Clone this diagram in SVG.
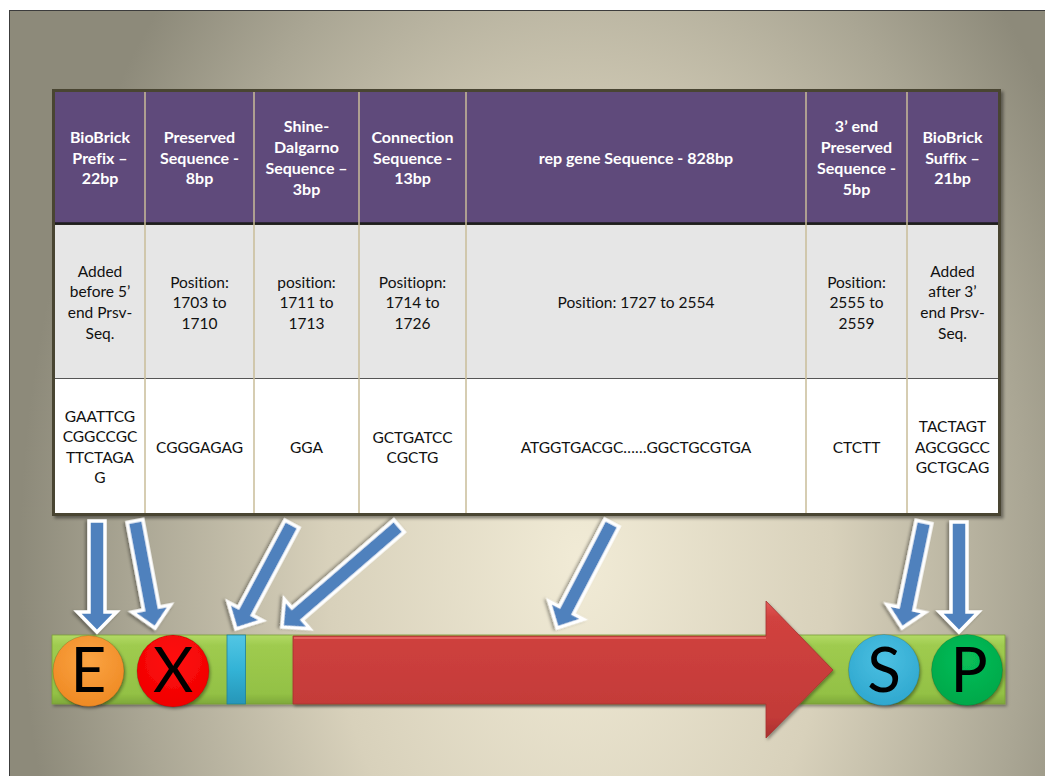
<svg xmlns="http://www.w3.org/2000/svg" width="1045" height="776" viewBox="0 0 1045 776">
<defs>
<radialGradient id="bg" gradientUnits="userSpaceOnUse" cx="580" cy="560" r="560" gradientTransform="translate(580 560) scale(1 1.5) translate(-580 -560)">
<stop offset="0" stop-color="#f1ebd6"/>
<stop offset="0.45" stop-color="#d8d1bb"/>
<stop offset="0.8" stop-color="#aaa694"/>
<stop offset="1" stop-color="#8d8a7a"/>
</radialGradient>
<linearGradient id="green" x1="0" y1="0" x2="0" y2="1">
<stop offset="0" stop-color="#b2da66"/>
<stop offset="0.15" stop-color="#9fcb4f"/>
<stop offset="0.85" stop-color="#93c145"/>
<stop offset="1" stop-color="#7ea83a"/>
</linearGradient>
<linearGradient id="red" x1="0" y1="0" x2="0" y2="1">
<stop offset="0" stop-color="#e35a58"/>
<stop offset="0.12" stop-color="#d1423f"/>
<stop offset="0.85" stop-color="#c23a38"/>
<stop offset="1" stop-color="#a8302e"/>
</linearGradient>
<linearGradient id="cyan" x1="0" y1="0" x2="0" y2="1">
<stop offset="0" stop-color="#52c6e4"/>
<stop offset="0.5" stop-color="#33b3d6"/>
<stop offset="1" stop-color="#2696b8"/>
</linearGradient>
<radialGradient id="gE" cx="0.5" cy="0.35" r="0.65">
<stop offset="0" stop-color="#fba443"/>
<stop offset="1" stop-color="#ef8a24"/>
</radialGradient>
<radialGradient id="gX" cx="0.5" cy="0.35" r="0.65">
<stop offset="0" stop-color="#ff1010"/>
<stop offset="1" stop-color="#f00000"/>
</radialGradient>
<radialGradient id="gS" cx="0.5" cy="0.35" r="0.65">
<stop offset="0" stop-color="#4cc0e2"/>
<stop offset="1" stop-color="#2fa8cf"/>
</radialGradient>
<radialGradient id="gP" cx="0.5" cy="0.35" r="0.65">
<stop offset="0" stop-color="#08be58"/>
<stop offset="1" stop-color="#00a84a"/>
</radialGradient>
<filter id="sh" x="-20%" y="-20%" width="140%" height="140%">
<feDropShadow dx="1.5" dy="2" stdDeviation="1.5" flood-color="#000" flood-opacity="0.35"/>
</filter>
<filter id="tsh" x="-5%" y="-5%" width="110%" height="110%">
<feDropShadow dx="2.5" dy="2.5" stdDeviation="1.5" flood-color="#000" flood-opacity="0.4"/>
</filter>
<style>
text{font-family:Lato,"Liberation Sans",sans-serif;text-anchor:middle;font-variant-ligatures:none}
.h{fill:#ffffff;font-weight:bold;font-size:16px}
.b{fill:#111111;font-size:15.5px}
.div{stroke:#c8bd98;stroke-width:1.5}
.arr{fill:#4f81bd;stroke:#ffffff;stroke-width:3.5;stroke-linejoin:miter;filter:url(#sh)}
.big{font-size:62px;fill:#000000}
.circ{stroke:rgba(0,0,0,0.15);stroke-width:1;filter:url(#sh)}
</style>
</defs>

<rect x="0" y="0" width="1045" height="776" fill="#ffffff"/>
<rect x="9.5" y="10.5" width="1100" height="800" fill="url(#bg)" stroke="#3c3c3c" stroke-width="1"/>

<g id="table">
<rect x="52" y="89" width="949" height="427" fill="#4a4430" filter="url(#tsh)"/>
<rect x="55" y="92" width="943" height="131" fill="#5f4a7b"/>
<rect x="55" y="225" width="943" height="153" fill="#e6e6e6"/>
<rect x="55" y="379" width="943" height="134" fill="#ffffff"/>
<line x1="55" y1="223.5" x2="998" y2="223.5" stroke="#1e1e1e" stroke-width="2.5"/>
<line x1="55" y1="378.5" x2="998" y2="378.5" stroke="#555555" stroke-width="1.2"/>
<line class="div" x1="145" y1="92" x2="145" y2="513"/>
<line class="div" x1="254" y1="92" x2="254" y2="513"/>
<line class="div" x1="359" y1="92" x2="359" y2="513"/>
<line class="div" x1="466" y1="92" x2="466" y2="513"/>
<line class="div" x1="806" y1="92" x2="806" y2="513"/>
<line class="div" x1="907" y1="92" x2="907" y2="513"/>
</g>

<g id="col-prefix">
<text class="h" x="100" y="142.5">BioBrick</text>
<text class="h" x="100" y="163.5">Prefix –</text>
<text class="h" x="100" y="184">22bp</text>
<text class="b" x="100" y="276.5">Added</text>
<text class="b" x="100" y="297">before 5’</text>
<text class="b" x="100" y="318">end Prsv-</text>
<text class="b" x="100" y="338.5">Seq.</text>
<text class="b" x="100" y="421.5">GAATTCG</text>
<text class="b" x="100" y="442">CGGCCGC</text>
<text class="b" x="100" y="462.5">TTCTAGA</text>
<text class="b" x="100" y="483">G</text>
</g>

<g id="col-preserved">
<text class="h" x="199.5" y="142.5">Preserved</text>
<text class="h" x="199.5" y="163.5">Sequence -</text>
<text class="h" x="199.5" y="184">8bp</text>
<text class="b" x="199.5" y="287.5">Position:</text>
<text class="b" x="199.5" y="308">1703 to</text>
<text class="b" x="199.5" y="328.5">1710</text>
<text class="b" x="199.5" y="452.5">CGGGAGAG</text>
</g>

<g id="col-shine">
<text class="h" x="306.5" y="132">Shine-</text>
<text class="h" x="306.5" y="153">Dalgarno</text>
<text class="h" x="306.5" y="174">Sequence –</text>
<text class="h" x="306.5" y="194.5">3bp</text>
<text class="b" x="306.5" y="287.5">position:</text>
<text class="b" x="306.5" y="308">1711 to</text>
<text class="b" x="306.5" y="328.5">1713</text>
<text class="b" x="306.5" y="452.5">GGA</text>
</g>

<g id="col-connection">
<text class="h" x="412.5" y="142.5">Connection</text>
<text class="h" x="412.5" y="163.5">Sequence -</text>
<text class="h" x="412.5" y="184">13bp</text>
<text class="b" x="412.5" y="287.5">Positiopn:</text>
<text class="b" x="412.5" y="308">1714 to</text>
<text class="b" x="412.5" y="328.5">1726</text>
<text class="b" x="412.5" y="442.5">GCTGATCC</text>
<text class="b" x="412.5" y="463">CGCTG</text>
</g>

<g id="col-rep">
<text class="h" x="636" y="163.5">rep gene Sequence - 828bp</text>
<text class="b" x="636" y="307.5">Position: 1727 to 2554</text>
<text class="b" x="636" y="452.5">ATGGTGACGC……GGCTGCGTGA</text>
</g>

<g id="col-3end">
<text class="h" x="856.5" y="132">3’ end</text>
<text class="h" x="856.5" y="153">Preserved</text>
<text class="h" x="856.5" y="174">Sequence -</text>
<text class="h" x="856.5" y="194.5">5bp</text>
<text class="b" x="856.5" y="287.5">Position:</text>
<text class="b" x="856.5" y="308">2555 to</text>
<text class="b" x="856.5" y="328.5">2559</text>
<text class="b" x="856.5" y="452.5">CTCTT</text>
</g>

<g id="col-suffix">
<text class="h" x="952.5" y="142.5">BioBrick</text>
<text class="h" x="952.5" y="163.5">Suffix –</text>
<text class="h" x="952.5" y="184">21bp</text>
<text class="b" x="952.5" y="276.5">Added</text>
<text class="b" x="952.5" y="297">after 3’</text>
<text class="b" x="952.5" y="318">end Prsv-</text>
<text class="b" x="952.5" y="338.5">Seq.</text>
<text class="b" x="952.5" y="431.5">TACTAGT</text>
<text class="b" x="952.5" y="452.5">AGCGGCC</text>
<text class="b" x="952.5" y="473">GCTGCAG</text>
</g>

<g id="bar">
<rect x="52" y="635" width="953" height="69" fill="url(#green)" stroke="#7a9f38" stroke-width="0.8" filter="url(#sh)"/>
</g>

<g id="sd-block">
<rect x="227" y="635" width="18.5" height="69" fill="url(#cyan)" stroke="#1f7f9c" stroke-width="0.8"/>
</g>

<g id="rep-arrow">
<path d="M293,636 L766,636 L766,601 L833,670 L766,738 L766,704 L293,704 Z" fill="url(#red)" stroke="#a33230" stroke-width="0.8" filter="url(#sh)"/>
<line x1="294" y1="638" x2="766" y2="638" stroke="#f07070" stroke-width="2" opacity="0.7"/>
</g>

<g id="node-E">
<circle class="circ" cx="88.5" cy="671" r="35.5" fill="url(#gE)"/>
<text class="big" x="88.5" y="692">E</text>
</g>
<g id="node-X">
<circle class="circ" cx="173" cy="671" r="36" fill="url(#gX)"/>
<text class="big" x="173" y="692">X</text>
</g>
<g id="node-S">
<circle class="circ" cx="884" cy="670" r="35.5" fill="url(#gS)"/>
<text class="big" x="884" y="692">S</text>
</g>
<g id="node-P">
<circle class="circ" cx="967" cy="670" r="35.5" fill="url(#gP)"/>
<text class="big" x="969" y="692">P</text>
</g>

<g id="connectors">
<path class="arr" transform="translate(97 521) rotate(90)" d="M0,-8 L91,-8 L91,-19.5 L111,0 L91,19.5 L91,8 L0,8 Z"/>
<path class="arr" transform="translate(135 521) rotate(79.4)" d="M0,-8 L89,-8 L89,-19.5 L109,0 L89,19.5 L89,8 L0,8 Z"/>
<path class="arr" transform="translate(292 524) rotate(118.1)" d="M0,-8 L99,-8 L99,-19.5 L119,0 L99,19.5 L99,8 L0,8 Z"/>
<path class="arr" transform="translate(399 526) rotate(139.2)" d="M0,-8 L134.6,-8 L134.6,-19.5 L154.6,0 L134.6,19.5 L134.6,8 L0,8 Z"/>
<path class="arr" transform="translate(612 523) rotate(117.6)" d="M0,-8 L98.5,-8 L98.5,-19.5 L118.5,0 L98.5,19.5 L98.5,8 L0,8 Z"/>
<path class="arr" transform="translate(924 522) rotate(101.7)" d="M0,-8 L88.3,-8 L88.3,-19.5 L108.3,0 L88.3,19.5 L88.3,8 L0,8 Z"/>
<path class="arr" transform="translate(959 522) rotate(90)" d="M0,-8 L90,-8 L90,-19.5 L110,0 L90,19.5 L90,8 L0,8 Z"/>
</g>
</svg>
